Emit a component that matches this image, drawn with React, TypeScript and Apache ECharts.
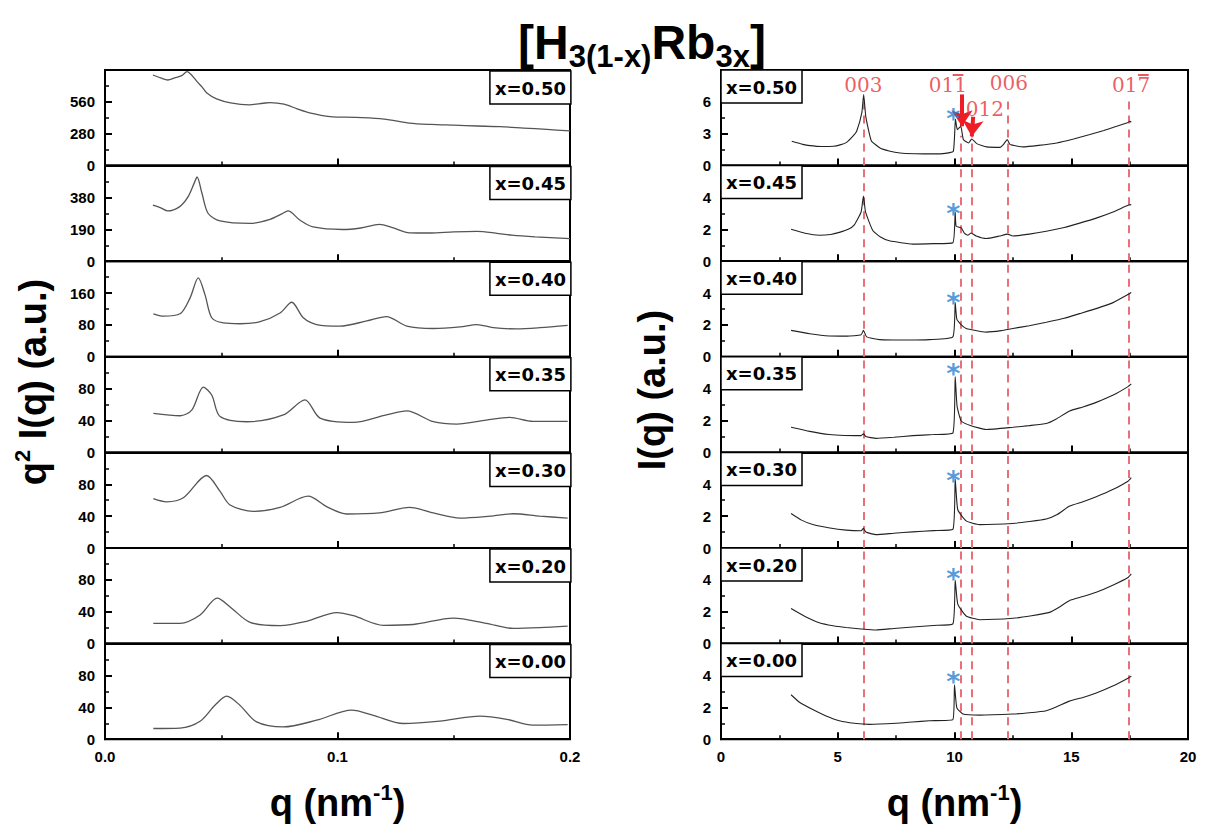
import React, { useEffect, useRef } from "react";
import * as echarts from "echarts";

// ---------- labels & axes ----------
const compositions = ["x=0.50", "x=0.45", "x=0.40", "x=0.35", "x=0.30", "x=0.20", "x=0.00"];
const leftYMax = [840, 570, 240, 120, 120, 120, 120];
const leftYInterval = [280, 190, 80, 40, 40, 40, 40];
const rightYMax = [9, 6, 6, 6, 6, 6, 6];
const rightYInterval = [3, 2, 2, 2, 2, 2, 2];

// ---------- left panel: q^2 I(q) vs q (nm^-1) ----------
const saxs050 = [[0.0206, 796], [0.024, 770], [0.027, 752], [0.03, 770], [0.033, 790], [0.0353, 826], [0.0375, 790], [0.0396, 738], [0.0418, 690], [0.0438, 638], [0.048, 586], [0.054, 551], [0.062, 534], [0.068, 548], [0.071, 554], [0.077, 540], [0.0826, 499], [0.088, 464], [0.0968, 431], [0.108, 423], [0.12, 409], [0.131, 374], [0.14, 362], [0.15, 355], [0.16, 348], [0.17, 342], [0.18, 330], [0.19, 318], [0.2, 305]];
const saxs045 = [[0.0206, 334], [0.024, 318], [0.027, 300], [0.032, 324], [0.0357, 383], [0.0385, 470], [0.0396, 502], [0.0417, 405], [0.0443, 286], [0.0495, 240], [0.0624, 225], [0.071, 250], [0.076, 282], [0.0787, 300], [0.0839, 244], [0.0895, 204], [0.102, 189], [0.11, 198], [0.118, 220], [0.124, 198], [0.131, 169], [0.14, 168], [0.15, 175], [0.16, 178], [0.168, 168], [0.175, 155], [0.185, 145], [0.2, 135]];
const saxs040 = [[0.0208, 108], [0.0251, 102], [0.0323, 108], [0.0366, 148], [0.0401, 198], [0.043, 156], [0.0459, 98], [0.0509, 85], [0.058, 83], [0.0667, 88], [0.0753, 110], [0.0803, 137], [0.0853, 98], [0.091, 81], [0.101, 77], [0.1126, 90], [0.121, 101], [0.1298, 77], [0.1412, 71], [0.1527, 75], [0.16, 81], [0.167, 73], [0.177, 70], [0.187, 73], [0.199, 79]];
const saxs035 = [[0.0208, 49], [0.0323, 46], [0.0373, 53], [0.0423, 82], [0.0459, 72], [0.0495, 45], [0.061, 38.5], [0.0767, 47], [0.086, 66], [0.0925, 43], [0.1068, 37.6], [0.121, 47], [0.1298, 52], [0.1412, 38.5], [0.1513, 35.5], [0.164, 40.5], [0.174, 44], [0.184, 39], [0.199, 39]];
const saxs030 = [[0.0208, 62], [0.0265, 58], [0.0337, 63], [0.0437, 91], [0.0495, 71], [0.0538, 54], [0.0638, 46], [0.0753, 51], [0.0874, 65], [0.0953, 52], [0.104, 42.7], [0.118, 44], [0.131, 51], [0.1412, 44], [0.1527, 37.6], [0.1656, 40], [0.1756, 43], [0.187, 40], [0.199, 37.6]];
const saxs020 = [[0.0208, 25.5], [0.0323, 25.5], [0.0409, 36], [0.0483, 57], [0.0538, 46], [0.0624, 26.7], [0.0753, 22.5], [0.0868, 28], [0.0997, 39], [0.1068, 35], [0.1197, 23], [0.1326, 24], [0.1498, 32], [0.164, 25.5], [0.1756, 19], [0.187, 20], [0.199, 22]];
const saxs000 = [[0.0208, 13.4], [0.0323, 14], [0.0409, 22.6], [0.0473, 42.7], [0.0523, 54], [0.058, 42.7], [0.0652, 21.7], [0.0767, 15.4], [0.091, 23.8], [0.1061, 36.4], [0.1154, 30], [0.1283, 19.7], [0.144, 22.6], [0.1613, 29], [0.1728, 25], [0.184, 17.6], [0.199, 18.4]];
const leftData = [saxs050, saxs045, saxs040, saxs035, saxs030, saxs020, saxs000];

// ---------- right panel: I(q) vs q (nm^-1) ----------
const waxs050 = [[3.03, 2.29], [3.5, 2.0], [3.81, 1.88], [4.3, 1.8], [4.81, 1.82], [5.1, 1.95], [5.38, 2.19], [5.67, 2.82], [5.81, 3.23], [6.03, 4.96], [6.11, 6.68], [6.2, 4.64], [6.38, 2.76], [6.45, 2.29], [6.81, 1.66], [7.2, 1.38], [7.67, 1.19], [8.3, 1.12], [9.09, 1.1], [9.6, 1.15], [9.95, 1.35], [10.04, 4.39], [10.12, 3.39], [10.27, 3.7], [10.38, 2.45], [10.6, 2.13], [10.74, 2.51], [10.95, 2.07], [11.38, 1.76], [11.95, 1.72], [12.09, 1.98], [12.26, 2.45], [12.38, 1.98], [12.95, 1.76], [13.6, 1.9], [14.38, 2.13], [15.1, 2.5], [15.8, 2.92], [16.4, 3.3], [16.95, 3.7], [17.38, 4.01], [17.52, 4.17], [17.57, 4.08]];
const waxs045 = [[3.0, 2.0], [3.6, 1.75], [4.21, 1.63], [4.7, 1.68], [5.07, 1.81], [5.45, 2.0], [5.71, 2.28], [6.0, 3.09], [6.1, 4.09], [6.19, 3.09], [6.5, 1.93], [6.85, 1.5], [7.21, 1.28], [8.21, 1.07], [9.1, 1.1], [9.93, 1.16], [10.03, 3.09], [10.07, 2.2], [10.29, 2.09], [10.43, 1.74], [10.57, 1.63], [10.71, 1.77], [10.93, 1.58], [11.36, 1.42], [11.93, 1.58], [12.27, 1.7], [12.5, 1.58], [13.2, 1.7], [13.93, 1.88], [14.7, 2.12], [15.36, 2.39], [16.1, 2.72], [16.79, 3.09], [17.43, 3.51], [17.57, 3.55]];
const waxs040 = [[3.0, 1.66], [3.8, 1.45], [4.64, 1.31], [5.4, 1.3], [6.0, 1.38], [6.1, 1.66], [6.24, 1.25], [6.79, 1.08], [8.0, 1.05], [8.93, 1.08], [9.93, 1.25], [10.03, 3.4], [10.1, 2.36], [10.29, 2.01], [10.5, 1.78], [10.71, 1.71], [11.36, 1.55], [12.0, 1.64], [12.5, 1.78], [13.2, 1.95], [13.93, 2.17], [14.7, 2.42], [15.36, 2.71], [16.1, 3.04], [16.79, 3.4], [17.47, 3.94], [17.57, 4.03]];
const waxs035 = [[3.0, 1.58], [3.8, 1.32], [4.64, 1.12], [5.3, 1.06], [6.0, 1.05], [6.1, 1.16], [6.2, 1.0], [6.64, 0.88], [7.4, 0.95], [8.21, 1.05], [9.1, 1.12], [9.93, 1.21], [10.03, 4.76], [10.11, 2.9], [10.29, 1.97], [10.71, 1.67], [11.36, 1.44], [12.5, 1.58], [13.2, 1.68], [13.93, 1.81], [14.36, 2.1], [14.93, 2.6], [15.5, 2.85], [16.07, 3.14], [16.8, 3.6], [17.43, 4.13], [17.57, 4.3]];
const waxs030 = [[3.0, 2.17], [3.45, 1.75], [3.93, 1.47], [4.6, 1.27], [5.36, 1.12], [6.0, 1.08], [6.1, 1.24], [6.2, 1.0], [6.64, 0.84], [7.4, 0.93], [8.21, 1.01], [9.1, 1.09], [9.93, 1.17], [10.03, 4.33], [10.14, 2.4], [10.5, 1.7], [11.07, 1.47], [12.5, 1.54], [13.2, 1.66], [13.93, 1.82], [14.4, 2.1], [14.93, 2.63], [15.5, 2.9], [16.07, 3.21], [16.8, 3.68], [17.43, 4.19], [17.57, 4.42]];
const waxs020 = [[3.0, 2.2], [3.6, 1.7], [4.21, 1.31], [4.8, 1.12], [5.36, 1.01], [6.0, 0.92], [6.64, 0.85], [7.4, 0.95], [8.21, 1.04], [9.1, 1.14], [9.93, 1.24], [10.03, 3.99], [10.14, 2.48], [10.5, 1.73], [11.07, 1.5], [12.5, 1.59], [13.3, 1.75], [14.07, 1.96], [14.5, 2.3], [14.93, 2.7], [15.5, 2.95], [16.07, 3.22], [16.8, 3.68], [17.43, 4.15], [17.57, 4.38]];
const waxs000 = [[3.0, 2.79], [3.36, 2.32], [3.93, 1.86], [4.5, 1.46], [5.07, 1.16], [5.7, 1.0], [6.36, 0.93], [7.5, 1.0], [8.2, 1.08], [8.93, 1.16], [9.93, 1.23], [10.0, 3.41], [10.1, 1.97], [10.36, 1.58], [11.07, 1.51], [12.5, 1.58], [13.2, 1.66], [13.93, 1.79], [14.4, 2.05], [14.93, 2.39], [15.5, 2.62], [16.07, 2.9], [16.8, 3.35], [17.43, 3.83], [17.57, 3.95]];
const rightData = [waxs050, waxs045, waxs040, waxs035, waxs030, waxs020, waxs000];

// ---------- annotations ----------
const peakQ = [6.1, 10.25, 10.72, 12.28, 17.45];
const peakLineTopTop = [6.6, 2.8, 2.8, 6.2, 6.1];
const peakLabels = ["003", "011", "012", "006", "017"];
const peakLabelQ = [6.1, 9.72, 11.3, 12.33, 17.56];
const peakLabelY = [7.6, 7.55, 5.35, 7.75, 7.55];
const overbarFrom = [[9.92, 8.58], [17.86, 8.58]];
const overbarTo = [[10.38, 8.58], [18.32, 8.58]];
const asteriskQ = 9.95;
const asteriskY = [5.08, 3.44, 3.82, 5.39, 4.65, 4.5, 4.07];
const arrowFrom = [[10.32, 6.7], [10.8, 4.6]];
const arrowTo = [[10.32, 3.7], [10.74, 2.75]];

const TOP = 70;
const H = 95.6;
const LEFT_X = 105;
const LEFT_W = 465;
const RIGHT_X = 721;
const RIGHT_W = 467;

function axisCommon(show: boolean) {
  return {
    axisLine: { show: true, onZero: false, lineStyle: { color: "#000", width: 2 } },
    axisTick: { show: true, inside: true, length: 7, lineStyle: { color: "#000", width: 2 } },
    minorTick: { show: true, splitNumber: 2, length: 4, lineStyle: { color: "#000", width: 1.5 } },
    splitLine: { show: false },
    axisLabel: {
      show,
      color: "#000",
      fontFamily: "Liberation Sans, Arial, sans-serif",
      fontWeight: "bold",
      fontSize: 15,
    },
  };
}

export default function App() {
  const ref = useRef<HTMLDivElement>(null);
  useEffect(() => {
    if (!ref.current) return;
    const chart = echarts.init(ref.current, undefined, { renderer: "svg" });
    const grid: any[] = [];
    const xAxis: any[] = [];
    const yAxis: any[] = [];
    const series: any[] = [];
    const title: any[] = [];

    for (let i = 0; i < 7; i++) {
      grid.push({ left: LEFT_X, top: TOP + i * H, width: LEFT_W, height: H, show: true, borderColor: "#000", borderWidth: 2, backgroundColor: "transparent" });
    }
    for (let i = 0; i < 7; i++) {
      grid.push({ left: RIGHT_X, top: TOP + i * H, width: RIGHT_W, height: H, show: true, borderColor: "#000", borderWidth: 2, backgroundColor: "transparent" });
    }
    const boxStyle = {
      borderColor: "#000", borderWidth: 1.5, backgroundColor: "#fff", padding: [6, 5, 5, 5],
      textStyle: { fontFamily: "DejaVu Sans", fontWeight: "bold", fontSize: 18, color: "#000", lineHeight: 22 },
    };
    for (let i = 0; i < 7; i++) {
      const c = axisCommon(i === 6);
      xAxis.push({ type: "value", gridIndex: i, min: 0, max: 0.2, interval: 0.1, ...c, axisLabel: { ...c.axisLabel, margin: 10, formatter: (v: number) => v.toFixed(1) } });
      const cy = axisCommon(true);
      yAxis.push({ type: "value", gridIndex: i, min: 0, max: leftYMax[i], interval: leftYInterval[i], ...cy, axisLabel: { ...cy.axisLabel, showMaxLabel: false, margin: 10 } });
      series.push({
        type: "line", xAxisIndex: i, yAxisIndex: i, data: leftData[i], showSymbol: false, smooth: 0.3,
        lineStyle: { color: "#555", width: 1.3 }, silent: true, z: 3,
      });
      title.push({ text: compositions[i], right: 1209 - (LEFT_X + LEFT_W) - 1, top: TOP + i * H + 1, ...boxStyle });
    }
    for (let i = 0; i < 7; i++) {
      const g = 7 + i;
      const c = axisCommon(i === 6);
      xAxis.push({ type: "value", gridIndex: g, min: 0, max: 20, interval: 5, ...c, axisLabel: { ...c.axisLabel, margin: 10 } });
      const cy = axisCommon(true);
      yAxis.push({ type: "value", gridIndex: g, min: 0, max: rightYMax[i], interval: rightYInterval[i], ...cy, axisLabel: { ...cy.axisLabel, showMaxLabel: false, margin: 10 } });
      const mlData = i === 0
        ? peakQ.map((q, k) => [{ coord: [q, 0] }, { coord: [q, peakLineTopTop[k]] }])
        : peakQ.map((q) => ({ xAxis: q }));
      series.push({
        type: "line", xAxisIndex: g, yAxisIndex: g, data: rightData[i], showSymbol: false, smooth: 0.15,
        lineStyle: { color: "#222", width: 1.1 }, silent: true, z: 3,
        markLine: {
          silent: true, symbol: ["none", "none"], label: { show: false },
          lineStyle: { color: "#e8707a", width: 2, type: [8, 6] },
          data: mlData, z: 2,
        },
      });
      series.push({
        type: "scatter", xAxisIndex: g, yAxisIndex: g, data: [[asteriskQ, asteriskY[i]]], symbolSize: 1,
        itemStyle: { color: "rgba(0,0,0,0)" }, silent: true, z: 5,
        label: { show: true, position: "inside", formatter: "*", fontSize: 27, fontWeight: "bold", color: "#2a7fd0", fontFamily: "DejaVu Sans", offset: [0, 7] },
      });
      title.push({ text: compositions[i], left: RIGHT_X, top: TOP + i * H, ...boxStyle });
    }
    // peak labels + arrows on the top right plot
    series.push({
      type: "scatter", xAxisIndex: 7, yAxisIndex: 7, symbolSize: 1, itemStyle: { color: "rgba(0,0,0,0)" }, silent: true, z: 6,
      data: peakLabelQ.map((q, k) => ({ value: [q, peakLabelY[k]], label: { formatter: peakLabels[k] } })),
      label: { show: true, position: "inside", fontFamily: "DejaVu Serif", fontSize: 20, color: "#e8333b" },
      markLine: {
        silent: true, symbol: ["none", "arrow"], symbolSize: 16, label: { show: false },
        lineStyle: { color: "#ee1c25", width: 4, type: "solid" },
        data: arrowFrom.map((f, k) => [{ coord: f }, { coord: arrowTo[k] }]),
      },
    });
    // overbars on the (0 1 -1) and (0 1 -7) labels
    series.push({
      type: "scatter", xAxisIndex: 7, yAxisIndex: 7, data: [], silent: true, z: 7,
      markLine: {
        silent: true, symbol: ["none", "none"], label: { show: false },
        lineStyle: { color: "#e8333b", width: 1.6, type: "solid" },
        data: overbarFrom.map((f, k) => [{ coord: f }, { coord: overbarTo[k] }]),
      },
    });

    const axisTitleRich = {
      n: { fontFamily: "Liberation Sans, Arial, sans-serif", fontWeight: "bold", fontSize: 38, lineHeight: 44, color: "#000" },
      sup: { fontFamily: "Liberation Sans, Arial, sans-serif", fontWeight: "bold", fontSize: 22, lineHeight: 24, verticalAlign: "top", color: "#000" },
    };

    chart.setOption({
      animation: false,
      backgroundColor: "#fff",
      title,
      grid,
      xAxis,
      yAxis,
      series,
      graphic: [
        {
          type: "text", x: 642, y: 42, z: 10,
          style: {
            text: "{b|[H}{s|3(1-x)}{b|Rb}{s|3x}{b|]}", align: "center", verticalAlign: "middle",
            rich: {
              b: { fontFamily: "Liberation Sans, Arial, sans-serif", fontWeight: "bold", fontSize: 48, lineHeight: 60, color: "#ff0000" },
              s: { fontFamily: "Liberation Sans, Arial, sans-serif", fontWeight: "bold", fontSize: 31, lineHeight: 34, verticalAlign: "bottom", color: "#ff0000" },
            },
          },
        },
        { type: "text", x: 337.5, y: 803, style: { text: "{n|q (nm}{sup|-1}{n|)}", align: "center", verticalAlign: "middle", rich: axisTitleRich } },
        { type: "text", x: 954.5, y: 803, style: { text: "{n|q (nm}{sup|-1}{n|)}", align: "center", verticalAlign: "middle", rich: axisTitleRich } },
        { type: "text", x: 33, y: 382, rotation: Math.PI / 2, style: { text: "{n|q}{sup|2}{n| I(q) (a.u.)}", align: "center", verticalAlign: "middle", rich: axisTitleRich } },
        { type: "text", x: 652, y: 390, rotation: Math.PI / 2, style: { text: "{n|I(q) (a.u.)}", align: "center", verticalAlign: "middle", rich: axisTitleRich } },
      ],
    });
    return () => chart.dispose();
  }, []);
  return <div ref={ref} style={{ position: "absolute", left: 0, top: 0, width: 1209, height: 827 }} />;
}
